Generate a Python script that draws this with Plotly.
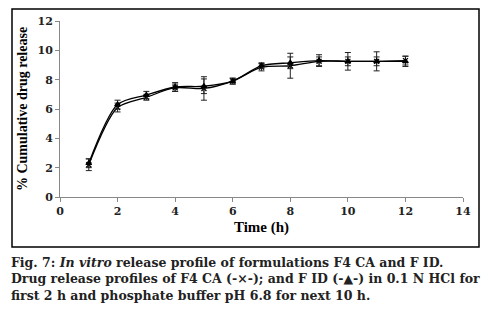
import plotly.graph_objects as go

time_h = [1, 2, 3, 4, 5, 6, 7, 8, 9, 10, 11, 12]
f4ca = [2.2, 6.1, 6.8, 7.45, 7.4, 7.9, 8.85, 8.95, 9.25, 9.25, 9.25, 9.3]
f4ca_err = [0.4, 0.3, 0.2, 0.25, 0.8, 0.2, 0.25, 0.85, 0.3, 0.6, 0.65, 0.3]
fid = [2.3, 6.3, 6.95, 7.5, 7.55, 7.9, 8.95, 9.15, 9.3, 9.25, 9.25, 9.25]
fid_err = [0.3, 0.3, 0.25, 0.3, 0.5, 0.2, 0.2, 0.4, 0.4, 0.3, 0.3, 0.35]
x_ticks = [0, 2, 4, 6, 8, 10, 12, 14]
y_ticks = [0, 2, 4, 6, 8, 10, 12]

caption = ("<b>Fig. 7: <i>In vitro</i> release profile of formulations F4 CA and F ID.</b><br>"
           "<b>Drug release profiles of F4 CA (-×-); and F ID (-▲-) in 0.1 N HCl for</b><br>"
           "<b>first 2 h and phosphate buffer pH 6.8 for next 10 h.</b>")

fig = go.Figure()
for name, ys, errs, sym in [("F4 CA", f4ca, f4ca_err, "x-thin-open"), ("F ID", fid, fid_err, "triangle-up")]:
    fig.add_trace(go.Scatter(
        x=time_h, y=ys, name=name, mode="lines+markers",
        line=dict(color="black", width=1.3, shape="spline", smoothing=0.8),
        marker=dict(symbol=sym, size=5, color="black", line=dict(color="black", width=1.2)),
        error_y=dict(type="data", array=errs, visible=True, color="#222", thickness=1, width=3),
    ))

L, R, T, B = 60, 37, 21, 124
W, H = 500, 321
pw, ph = W - L - R, H - T - B

def px(x):
    return (x - L) / pw

def py(y):
    return (H - B - y) / ph

fig.update_layout(
    width=W, height=H, margin=dict(l=L, r=R, t=T, b=B),
    paper_bgcolor="white", plot_bgcolor="white", showlegend=False,
    font=dict(family="Liberation Serif", color="black"),
    xaxis=dict(range=[0, 14], tickvals=x_ticks, showgrid=False, zeroline=False,
               showline=True, linecolor="#888", linewidth=1, ticks="outside", ticklen=4, tickcolor="#888",
               tickfont=dict(family="DejaVu Serif", size=11, color="#222", weight="bold"),
               title=dict(text="<b>Time (h)</b>", font=dict(size=15), standoff=4)),
    yaxis=dict(range=[0, 12], tickvals=y_ticks, showgrid=False, zeroline=False,
               showline=True, linecolor="#888", linewidth=1, ticks="outside", ticklen=4, tickcolor="#888",
               tickfont=dict(family="DejaVu Serif", size=11, color="#222", weight="bold"),
               title=dict(text="<b>% Cumulative drug release</b>", font=dict(size=14), standoff=6)),
    shapes=[dict(type="rect", xref="paper", yref="paper",
                 x0=px(12), x1=px(479), y0=py(247), y1=py(9),
                 line=dict(color="black", width=1.5), fillcolor="rgba(0,0,0,0)")],
    annotations=[dict(text=caption, xref="paper", yref="paper", x=px(10), y=py(254),
                      xanchor="left", yanchor="top", align="left", showarrow=False, borderpad=0,
                      font=dict(family="DejaVu Serif", size=12.5, color="#222"))],
)

fig.write_html("out.html")
